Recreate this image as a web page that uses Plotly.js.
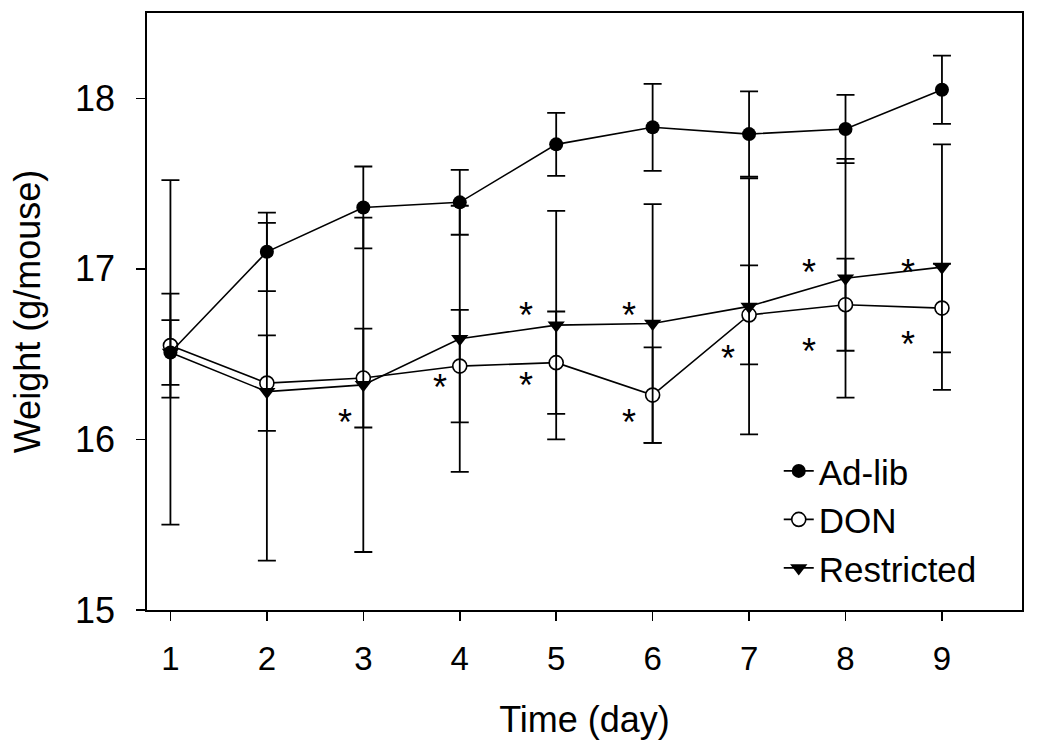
<!DOCTYPE html>
<html>
<head>
<meta charset="utf-8">
<script src="https://cdn.plot.ly/plotly-3.0.1.min.js"></script>
<style>html,body{margin:0;padding:0;background:#fff;}#chart{width:1050px;height:750px;}</style>
</head>
<body>
<div id="chart"></div>
<script>
const days = [1, 2, 3, 4, 5, 6, 7, 8, 9];
const adlib = [16.51, 17.10, 17.36, 17.39, 17.73, 17.83, 17.79, 17.82, 18.05];
const adlibErr = [0.19, 0.23, 0.24, 0.19, 0.185, 0.255, 0.25, 0.20, 0.20];
const don = [16.55, 16.33, 16.36, 16.43, 16.45, 16.26, 16.73, 16.79, 16.77];
const donErr = [0.305, 0.28, 0.29, 0.33, 0.30, 0.28, 0.29, 0.27, 0.26];
const restricted = [16.51, 16.28, 16.32, 16.59, 16.67, 16.68, 16.78, 16.945, 17.01];
const restrictedErr = [1.01, 0.99, 0.98, 0.78, 0.67, 0.70, 0.75, 0.70, 0.72];
const starX = [2.81, 3.79, 4.69, 4.69, 5.76, 5.76, 6.78, 7.62, 7.62, 8.65, 8.65];
const starY = [16.15, 16.36, 16.78, 16.37, 16.78, 16.15, 16.53, 17.03, 16.57, 17.03, 16.61];
const xTicks = [1, 2, 3, 4, 5, 6, 7, 8, 9];
const yTicks = [15, 16, 17, 18];

const FONT = '"Liberation Sans", Arial, sans-serif';
const lineStyle = {color: '#000', width: 1.6};
function errStyle(arr) {
  return {type: 'data', array: arr, visible: true, color: '#000', thickness: 1.8, width: 9};
}

const traces = [
  {
    x: days, y: don, name: 'DON', mode: 'lines+markers', legendrank: 2,
    line: lineStyle,
    marker: {symbol: 'circle', size: 14, color: '#fff', line: {color: '#000', width: 1.6}},
    error_y: errStyle(donErr)
  },
  {
    x: days, y: restricted, name: 'Restricted', mode: 'lines+markers', legendrank: 3,
    line: lineStyle,
    marker: {symbol: 'triangle-down', size: 15, color: '#000', line: {color: '#000', width: 0}},
    error_y: errStyle(restrictedErr)
  },
  {
    x: days, y: adlib, name: 'Ad-lib', mode: 'lines+markers', legendrank: 1,
    line: lineStyle,
    marker: {symbol: 'circle', size: 14, color: '#000', line: {color: '#000', width: 0}},
    error_y: errStyle(adlibErr)
  }
];

const annotations = starX.map((sx, i) => ({
  x: sx, y: starY[i], xref: 'x', yref: 'y', text: '*', showarrow: false,
  font: {family: FONT, size: 36, color: '#000'}, yshift: -9
}));

const layout = {
  width: 1050, height: 750,
  paper_bgcolor: '#fff', plot_bgcolor: '#fff',
  margin: {l: 147, r: 28, t: 12.5, b: 140},
  font: {family: FONT, color: '#000'},
  showlegend: true,
  legend: {
    x: 0.722, y: 0.282, xanchor: 'left', yanchor: 'top',
    font: {family: FONT, size: 35, color: '#000'},
    bgcolor: 'rgba(0,0,0,0)', borderwidth: 0, tracegroupgap: 0
  },
  xaxis: {
    range: [0.757, 9.83], tickmode: 'array', tickvals: xTicks, ticktext: xTicks.map(String),
    showline: true, linecolor: '#000', linewidth: 1.8, mirror: true,
    ticks: 'outside', ticklen: 9, tickwidth: 1.5, tickcolor: '#000',
    showgrid: false, zeroline: false,
    tickfont: {family: FONT, size: 33, color: '#000'}, ticklabelstandoff: 10,
    title: {text: 'Time (day)', font: {family: FONT, size: 36, color: '#000'}, standoff: 30}
  },
  yaxis: {
    range: [15, 18.5], tickmode: 'array', tickvals: yTicks, ticktext: yTicks.map(String),
    showline: true, linecolor: '#000', linewidth: 1.8, mirror: true,
    ticks: 'outside', ticklen: 9, tickwidth: 1.5, tickcolor: '#000',
    showgrid: false, zeroline: false,
    tickfont: {family: FONT, size: 36, color: '#000'}, ticklabelstandoff: 14,
    title: {text: 'Weight (g/mouse)', font: {family: FONT, size: 36, color: '#000'}, standoff: 23}
  },
  annotations: annotations
};

Plotly.newPlot('chart', traces, layout, {displayModeBar: false, staticPlot: true});
</script>
</body>
</html>
